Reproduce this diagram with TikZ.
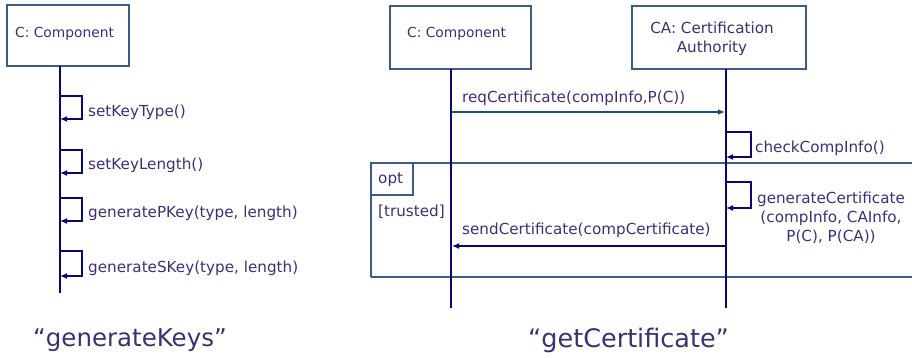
\documentclass[tikz,border=0pt]{standalone}
\usepackage{fontspec}
\setmainfont{DejaVu Sans}
\usetikzlibrary{arrows.meta}
\definecolor{ink}{RGB}{62,48,112}
\definecolor{life}{RGB}{8,8,110}
\definecolor{frame}{RGB}{62,92,130}
\definecolor{msgblue}{RGB}{38,72,118}
\tikzset{
  obj/.style={draw=frame, line width=1.2pt, fill=white, text=ink, inner sep=0pt},
  objtext/.style={text=ink, font=\fontsize{13.8}{19}\selectfont, inner sep=0pt},
  lifeline/.style={draw=life, line width=2.4pt},
  selfcall/.style={draw=life, line width=1.8pt, -{Latex[length=7pt,width=6pt]}},
  msg/.style={line width=1.3pt, -{Latex[length=7pt,width=6pt]}},
  lbl/.style={text=ink, font=\fontsize{15.2}{19}\selectfont, inner sep=0pt, anchor=west},
  title/.style={text=ink, font=\fontsize{24.5}{28}\selectfont, inner sep=0pt, anchor=west},
  fr/.style={draw=frame, line width=1.3pt},
}
\begin{document}
\begin{tikzpicture}[x=1pt, y=-1pt]
\useasboundingbox (0,0) rectangle (912,358);

% ---------- generateKeys ----------
\node[obj, minimum width=122pt, minimum height=61pt] (C1) at (68,35.5) {};
\node[objtext, anchor=west] (C1t) at (15,34) {C: Component};
\coordinate (C1top) at (60,66);
\coordinate (C1end) at (60,293);
\draw[lifeline] (C1top) -- (C1end);

\foreach \i/\ya/\yb/\txt/\yl in {1/96/119/{setKeyType()}/112, 2/150/173/{setKeyLength()}/165, 3/198/221/{generatePKey(type, length)}/213, 4/251/276/{generateSKey(type, length)}/268}{
  \coordinate (ka\i) at (60,\ya);
  \coordinate (kb\i) at (60,\yb);
  \draw[selfcall] (ka\i) -- ++(22,0) |- (kb\i);
  \node[lbl] (kl\i) at (88,\yl) {\txt};
}

\node[title] (gk) at (33,340) {“generateKeys”};

% ---------- getCertificate ----------
\node[obj, minimum width=141pt, minimum height=63pt] (C2) at (460.5,37.5) {};
\node[objtext, anchor=west] (C2t) at (407,34) {C: Component};
\node[obj, minimum width=174pt, minimum height=63pt] (CA) at (719,37.5) {};
\node[objtext, font=\fontsize{15.2}{19}\selectfont, align=center] (CAt) at (712,38.5) {CA: Certification\\Authority};

\coordinate (Ctop) at (451,69);
\coordinate (Cend) at (451,308);
\coordinate (Atop) at (726,69);
\coordinate (Aend) at (726,308);

% opt combined fragment
\coordinate (f1) at (913,163);
\coordinate (f2) at (371,163);
\coordinate (f3) at (371,277);
\coordinate (f4) at (913,277);
\draw[fr] (f1) -- (f2) -- (f3);
\draw[fr, line width=2pt] (f3) -- (f4);
\coordinate (t1) at (413,163);
\coordinate (t2) at (371,195);
\draw[fr] (t1) |- (t2);
\node[lbl] (opt) at (378,180) {opt};
\node[lbl] (grd) at (378,212) {[trusted]};

\draw[lifeline] (Ctop) -- (Cend);
\draw[lifeline] (Atop) -- (Aend);

% messages
\coordinate (rq1) at (451,112);
\coordinate (rq2) at (725,112);
\draw[msg, draw=msgblue] (rq1) -- (rq2);
\node[lbl] (rql) at (462,98) {reqCertificate(compInfo,P(C))};

\coordinate (cc1) at (726,132);
\coordinate (cc2) at (726,157);
\draw[selfcall] (cc1) -- ++(25,0) |- (cc2);
\node[lbl] (ccl) at (755,148) {checkCompInfo()};

\coordinate (gc1) at (726,182);
\coordinate (gc2) at (726,208);
\draw[selfcall] (gc1) -- ++(25,0) |- (gc2);
\node[text=ink, font=\fontsize{15.2}{19}\selectfont, align=center, inner sep=0pt] (gcl) at (831,218) {generateCertificate\\(compInfo, CAInfo,\\P(C), P(CA))};

\coordinate (sc1) at (726,246);
\coordinate (sc2) at (452,246);
\draw[msg, draw=life] (sc1) -- (sc2);
\node[lbl] (scl) at (462,230) {sendCertificate(compCertificate)};

\node[title, font=\fontsize{25.5}{28}\selectfont] (gcert) at (528,340) {“getCertificate”};
\end{tikzpicture}
\end{document}
